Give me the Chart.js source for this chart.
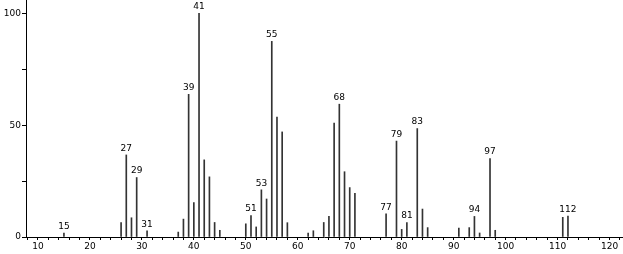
<!DOCTYPE html>
<html>
<head>
<meta charset="utf-8">
<script src="https://cdn.jsdelivr.net/npm/chart.js@4/dist/chart.umd.min.js"></script>
<style>
  html, body { margin: 0; padding: 0; background: #fff; }
  canvas { display: block; }
</style>
</head>
<body>
<canvas id="spec" width="623" height="254"></canvas>
<script>
// m/z values and relative intensities
const masses = [15, 26, 27, 28, 29, 31, 37, 38, 39, 40, 41, 42, 43, 44, 45,
  50, 51, 52, 53, 54, 55, 56, 57, 58, 62, 63, 65, 66, 67, 68, 69, 70, 71,
  77, 79, 80, 81, 83, 84, 85, 91, 93, 94, 95, 97, 98, 111, 112];
const intensities = [1.8, 6.5, 36.7, 8.6, 26.6, 2.8, 2.2, 8.0, 63.8, 15.4, 100, 34.5, 26.9, 6.5, 3.0,
  5.9, 9.6, 4.5, 21.1, 17.0, 87.5, 53.6, 47.0, 6.4, 1.8, 2.8, 6.5, 9.2, 50.9, 59.4, 29.2, 22.1, 19.5,
  10.4, 42.9, 3.4, 6.5, 48.5, 12.5, 4.2, 4.0, 4.2, 9.2, 1.8, 35.1, 3.0, 8.8, 9.4];
// peaks that carry a mass label
const labelledPeaks = [15, 27, 29, 31, 39, 41, 51, 53, 55, 68, 77, 79, 81, 83, 94, 97, 112];
const xTickLabels = [10, 20, 30, 40, 50, 60, 70, 80, 90, 100, 110, 120];
const yTickLabels = [0, 50, 100];

const FONT = { family: "'DejaVu Sans', sans-serif", size: 9 };

// draw the mass number over each labelled peak
const peakLabels = {
  id: 'peakLabels',
  afterDatasetsDraw(chart) {
    const ctx = chart.ctx;
    const xs = chart.scales.x, ys = chart.scales.y;
    ctx.save();
    ctx.font = FONT.size + 'px ' + FONT.family;
    ctx.fillStyle = '#000';
    ctx.textAlign = 'center';
    ctx.textBaseline = 'bottom';
    labelledPeaks.forEach(m => {
      const i = masses.indexOf(m);
      if (i < 0) return;
      ctx.fillText(String(m), xs.getPixelForValue(m), ys.getPixelForValue(intensities[i]) - 2);
    });
    ctx.restore();
  }
};

new Chart(document.getElementById('spec'), {
  type: 'bar',
  data: {
    datasets: [{
      data: masses.map((m, i) => ({ x: m, y: intensities[i] })),
      backgroundColor: '#333',
      borderWidth: 0,
      barThickness: 1
    }]
  },
  options: {
    responsive: false,
    animation: false,
    layout: { padding: { top: 0, right: 1, left: 0, bottom: 0 } },
    plugins: { legend: { display: false }, tooltip: { enabled: false } },
    scales: {
      x: {
        type: 'linear',
        offset: false,
        min: 7.7,
        max: 122.4,
        afterBuildTicks: (s) => {
          const t = [];
          for (let v = 8; v <= 122; v += 2) t.push({ value: v });
          s.ticks = t;
        },
        afterFit: (s) => {
          s.height = 17;
          s.paddingLeft = 0;
          s.paddingRight = 0;
        },
        ticks: {
          autoSkip: false,
          maxRotation: 0,
          padding: 1,
          color: '#000',
          font: FONT,
          callback: (v) => xTickLabels.includes(v) ? String(v) : ''
        },
        grid: { offset: false, drawOnChartArea: false, drawTicks: true, tickLength: 3, tickColor: '#000' },
        border: { display: true, color: '#000', width: 1 }
      },
      y: {
        min: 0,
        max: 106,
        afterBuildTicks: (s) => {
          s.ticks = [0, 25, 50, 75, 100].map(v => ({ value: v }));
        },
        afterFit: (s) => {
          s.width = 26;
          s.paddingTop = 0;
          s.paddingBottom = 0;
        },
        ticks: {
          padding: 1,
          color: '#000',
          font: FONT,
          callback: (v) => yTickLabels.includes(v) ? String(v) : ''
        },
        grid: { drawOnChartArea: false, drawTicks: true, tickLength: 4, tickColor: '#000' },
        border: { display: true, color: '#000', width: 1 }
      }
    }
  },
  plugins: [peakLabels]
});
</script>
</body>
</html>
